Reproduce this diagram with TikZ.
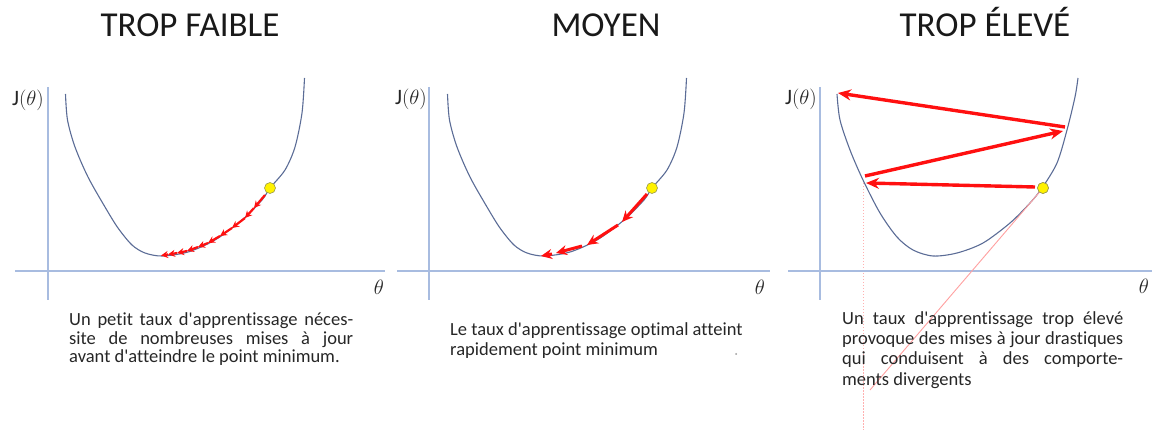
\documentclass[tikz,border=0pt]{standalone}
\usepackage{fontspec}
\setmainfont{Carlito}[RawFeature={-liga}]
\usetikzlibrary{arrows.meta}
\definecolor{axisc}{HTML}{A8BCE0}
\definecolor{curvec}{HTML}{5B6C96}
\definecolor{redc}{HTML}{FF1010}
\definecolor{pinkc}{HTML}{FFA0A0}
\definecolor{pinkv}{HTML}{FFB0B0}
\definecolor{txtc}{HTML}{262626}
\definecolor{dotedge}{HTML}{9A9A50}
\tikzset{
 axisline/.style={draw=axisc, line width=1.6pt},
 curveline/.style={draw=curvec, line width=1.1pt},
 ydot/.style={circle, fill=yellow, draw=dotedge, line width=0.6pt, minimum size=11pt, inner sep=0pt},
 stepsmall/.style={draw=redc, line width=2.2pt, -{Stealth[length=7pt,width=7pt]}},
 stepmid/.style={draw=redc, line width=3pt, -{Stealth[length=11pt,width=10pt]}},
 stepbig/.style={draw=redc, line width=3.4pt, -{Stealth[length=13pt,width=11pt]}},
 guide/.style={draw=pinkc, line width=0.9pt},
 title/.style={font=\fontsize{35}{40}\selectfont, text=black!90, inner sep=0pt, anchor=base},
 body/.style={font=\fontsize{18.5}{20}\selectfont, text=txtc, inner sep=0pt, anchor=base west},
 jlab/.style={font=\fontsize{22}{24}\selectfont, inner sep=0pt, text=black!85},
}
\newcommand{\ap}{\textquotesingle}
\begin{document}
\begin{tikzpicture}[x=1pt,y=-1pt]
\useasboundingbox (0,0) rectangle (1152,430);

% ---------- titles ----------
\node[title] (t1) at (190,37) {TROP FAIBLE};
\node[title] (t2) at (606,37) {MOYEN};
\node[title] (t3) at (985,37) {TROP ÉLEVÉ};

% ---------- guide lines (panel 3) ----------
\coordinate (pv1) at (863,180);
\coordinate (pv2) at (863,432);
\coordinate (pe) at (870,390);
\draw[draw=pinkv, line width=1pt, dash pattern=on 1.5pt off 1.5pt] (pv1) -- (pv2);

% ---------- axes ----------
\draw[axisline] (48,87) -- (48,300);
\draw[axisline] (15,271) -- (385,271);
\draw[axisline] (429,87) -- (429,300);
\draw[axisline] (397,271) -- (770,271);
\draw[axisline] (820,87) -- (820,300);
\draw[axisline] (788,271) -- (1152,271);

% ---------- axis labels ----------
\node[jlab, anchor=east] (j1) at (44,100) {$\mathrm{J}(\theta)$};
\node[jlab, anchor=east] (j2) at (427,99) {$\mathrm{J}(\theta)$};
\node[jlab, anchor=east] (j3) at (817,99) {$\mathrm{J}(\theta)$};
\node[jlab] (x1) at (379,287) {$\theta$};
\node[jlab] (x2) at (760,287) {$\theta$};
\node[jlab] (x3) at (1144,286) {$\theta$};

% ---------- curves ----------
\draw[curveline] plot[smooth, tension=0.5] coordinates {(65.5,94) (67.5,120) (75,147) (88,177) (105,207) (118,228) (132,245) (145,253) (162,256) (188,252) (215,240) (242,220) (262,200) (270,188) (285,170) (295,147) (302,113) (304.5,78)};
\begin{scope}[xshift=382pt]
\draw[curveline] plot[smooth, tension=0.5] coordinates {(65.5,94) (67.5,120) (75,147) (88,177) (105,207) (118,228) (132,245) (145,253) (162,256) (188,252) (215,240) (242,220) (262,200) (270,188) (285,170) (295,147) (302,113) (304.5,78)};
\end{scope}
\draw[curveline] plot[smooth, tension=0.5] coordinates {(837,94) (840,120) (850,150) (863,180) (880,213) (897,237) (913,250) (933,256) (957,253) (983,243) (1010,223) (1030,203) (1042,188) (1057,163) (1067,130) (1075,97) (1078,78)};

% ---------- panel 3 diagonal guide ----------
\node[ydot] (d3) at (1043,188) {};
\draw[guide] (d3.center) -- (pe);

% ---------- panel 1 steps ----------
\coordinate (p0) at (265,195);
\coordinate (p1) at (254,208);
\coordinate (p2) at (245,218);
\coordinate (p3) at (232,228);
\coordinate (p4) at (220,236);
\coordinate (p5) at (208,243);
\coordinate (p6) at (198,247);
\coordinate (p7) at (187,251);
\coordinate (p8) at (177,253);
\coordinate (p9) at (168,254.5);
\coordinate (p10) at (161,255.5);
\foreach \i/\j in {0/1,1/2,2/3,3/4,4/5,5/6,6/7,7/8,8/9,9/10}
  \draw[stepsmall] (p\i) -- (p\j);
\node[ydot] (d1) at (270,188) {};

% ---------- panel 2 steps ----------
\coordinate (q0) at (647,194);
\coordinate (q1) at (622,222);
\coordinate (q2) at (618,225);
\coordinate (q3) at (587,245);
\coordinate (q4) at (582,246);
\coordinate (q5) at (556,253);
\coordinate (q6) at (552,254);
\coordinate (q7) at (541,256);
\draw[stepmid] (q0) -- (q1);
\draw[stepmid] (q2) -- (q3);
\draw[stepmid] (q4) -- (q5);
\draw[stepmid] (q6) -- (q7);
\node[ydot] (d2) at (652,188) {};

% ---------- panel 3 steps ----------
\coordinate (r0) at (1035,187);
\coordinate (r1) at (866,183);
\coordinate (r2) at (865,176);
\coordinate (r3) at (1063,131);
\coordinate (r4) at (1065,127);
\coordinate (r5) at (838,93);
\draw[stepbig] (r0) -- (r1);
\draw[stepbig] (r2) -- (r3);
\draw[stepbig] (r4) -- (r5);
\node[ydot] at (d3) {};

% ---------- texts ----------
\node[body] (a1) at (69,326) {\makebox[284pt][s]{Un petit taux d\ap apprentissage néces-}};
\node[body] (a2) at (69,344.5) {\makebox[284pt][s]{site de nombreuses mises à jour}};
\node[body] (a3) at (69,363) {avant d\ap atteindre le point minimum.};

\node[body] (b1) at (450,336) {Le taux d\ap apprentissage optimal atteint};
\node[body] (b2) at (450,356) {rapidement point minimum};
\fill[black!40] (736,354) circle (1pt);

\node[body] (c1) at (842,325) {\makebox[281pt][s]{Un taux d\ap apprentissage trop élevé}};
\node[body] (c2) at (842,345) {\makebox[281pt][s]{provoque des mises à jour drastiques}};
\node[body] (c3) at (842,365) {\makebox[281pt][s]{qui conduisent à des comporte-}};
\node[body] (c4) at (842,385) {ments divergents};
\end{tikzpicture}
\end{document}
